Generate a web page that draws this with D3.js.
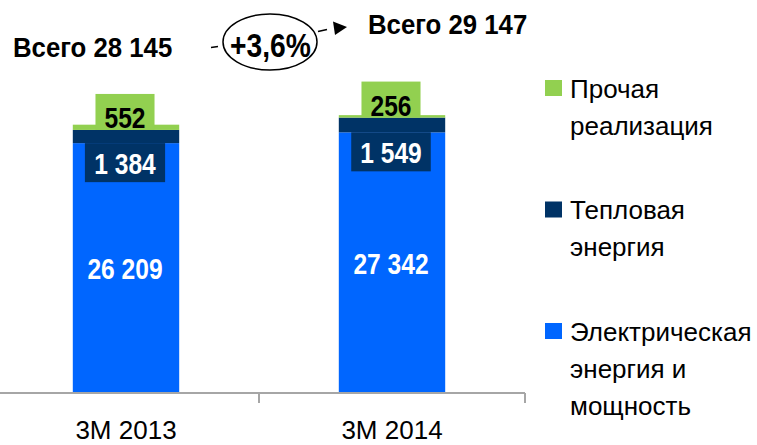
<!DOCTYPE html>
<html>
<head>
<meta charset="utf-8">
<script src="https://cdn.jsdelivr.net/npm/d3@7"></script>
<style>
  html, body { margin: 0; padding: 0; background: #fff; }
  svg { display: block; font-family: 'Liberation Sans', Arial, sans-serif; }
  .axis path, .axis line { stroke: #a6a6a6; stroke-width: 2px; }
  .axis text { font-size: 26px; fill: #000; }
  .legend text { font-size: 26px; fill: #000; }
</style>
</head>
<body>
<svg id="chart"></svg>
<script>
// категории
var categories = ['3M 2013', '3M 2014'];
// электрическая энергия и мощность
var electric = [26209, 27342];
// тепловая энергия
var heat = [1384, 1549];
// прочая реализация
var other = [552, 256];
// легенда (сверху вниз)
var legendKeys = ['other', 'heat', 'electric'];
var legendLabels = [
  ['Прочая', 'реализация'],
  ['Тепловая', 'энергия'],
  ['Электрическая', 'энергия и', 'мощность']
];

(function() {
  var width = 757;
  var height = 445;

  var colors = {
    electric: '#0066ff',
    heat: '#003366',
    other: '#92d050'
  };

  var locale = d3.formatLocale({
    decimal: ',',
    thousands: ' ',
    grouping: [3],
    currency: ['', '']
  });
  var fmt = locale.format(',d');
  var fmtPct = locale.format('+.1%');

  var rows = categories.map(function(c, i) {
    return { cat: c, electric: electric[i], heat: heat[i], other: other[i] };
  });
  var totals = rows.map(function(d) {
    return d.electric + d.heat + d.other;
  });

  var stack = d3.stack().keys(['electric', 'heat', 'other']);
  var series = stack(rows);

  var svg = d3.select('#chart')
    .attr('width', width)
    .attr('height', height);

  // шкалы
  var x = d3.scaleBand()
    .domain(categories)
    .range([-7, 525])
    .padding(0);

  var barWidth = x.bandwidth() * 0.4;

  var y = d3.scaleLinear()
    .domain([0, 30000])
    .range([393, 107]);

  // сжатый шрифт (как Arial Narrow)
  function narrow(sel, cx, cy, sx) {
    sel.attr('x', 0).attr('y', 0)
      .attr('text-anchor', 'middle')
      .attr('transform', 'translate(' + cx + ',' + cy + ') scale(' + sx + ',1)');
  }

  // столбцы
  var layers = svg.append('g')
    .selectAll('g')
    .data(series)
    .enter()
    .append('g')
    .attr('fill', function(d) { return colors[d.key]; });

  layers.selectAll('rect')
    .data(function(d) { return d; })
    .enter()
    .append('rect')
    .attr('x', function(d) { return x(d.data.cat) + (x.bandwidth() - barWidth) / 2; })
    .attr('y', function(d) { return y(d[1]); })
    .attr('width', barWidth)
    .attr('height', function(d) { return y(d[0]) - y(d[1]); });

  // ось X
  var axis = svg.append('g')
    .attr('class', 'axis')
    .attr('transform', 'translate(0,' + y(0) + ')');

  axis.append('line')
    .attr('x1', x.range()[0])
    .attr('x2', x.range()[1])
    .attr('y1', 0)
    .attr('y2', 0);

  axis.selectAll('line.tick')
    .data(categories)
    .enter()
    .append('line')
    .attr('class', 'tick')
    .attr('x1', function(d) { return x(d) + x.bandwidth(); })
    .attr('x2', function(d) { return x(d) + x.bandwidth(); })
    .attr('y1', 0)
    .attr('y2', 10);

  axis.selectAll('text')
    .data(categories)
    .enter()
    .append('text')
    .attr('x', function(d) { return x(d) + x.bandwidth() / 2; })
    .attr('y', 46)
    .attr('text-anchor', 'middle')
    .text(function(d) { return d; });

  var cx = function(d) { return x(d.data.cat) + x.bandwidth() / 2 - 1; };

  // подписи: электрическая энергия
  svg.append('g')
    .selectAll('text')
    .data(series[0])
    .enter()
    .append('text')
    .attr('fill', '#fff')
    .attr('font-weight', 'bold')
    .attr('font-size', 30)
    .text(function(d) { return fmt(d.data.electric); })
    .each(function(d) {
      narrow(d3.select(this), cx(d), (y(d[0]) + y(d[1])) / 2 + 11, 0.82);
    });

  // подписи в плашках
  function boxLabels(data, key, fill, color, boxY, boxH, baseY) {
    var g = svg.append('g')
      .selectAll('g')
      .data(data)
      .enter()
      .append('g');

    var rect = g.append('rect').attr('fill', fill);

    g.append('text')
      .attr('fill', color)
      .attr('font-weight', 'bold')
      .attr('font-size', 30)
      .text(function(d) { return fmt(d.data[key]); })
      .each(function(d) {
        narrow(d3.select(this), cx(d), baseY(d), 0.82);
        var w = this.getBBox().width * 0.82 + 18;
        rect.filter(function(e) { return e === d; })
          .attr('x', cx(d) - w / 2)
          .attr('y', boxY(d))
          .attr('width', w)
          .attr('height', boxH);
      });
  }

  // тепловая энергия: плашка под сегментом
  boxLabels(series[1], 'heat', colors.heat, '#fff',
    function(d) { return y(d[0]); }, 39,
    function(d) { return y(d[0]) + 31; });

  // прочая реализация: плашка над сегментом
  boxLabels(series[2], 'other', colors.other, '#000',
    function(d) { return y(d[0]) - 36; }, 36,
    function(d) { return y(d[0]) - 2; });

  // итоги
  var totalPos = [{ x: 13, y: 57 }, { x: 368, y: 34 }];
  svg.append('g')
    .selectAll('text')
    .data(totals)
    .enter()
    .append('text')
    .attr('font-weight', 'bold')
    .attr('font-size', 28)
    .attr('transform', function(d, i) {
      return 'translate(' + totalPos[i].x + ',' + totalPos[i].y + ') scale(0.92,1)';
    })
    .text(function(d) { return 'Всего ' + fmt(d); });

  // стрелка роста
  var ann = svg.append('g')
    .attr('stroke', '#000')
    .attr('stroke-width', 1.5);

  ann.append('line')
    .attr('x1', 211).attr('y1', 47.5)
    .attr('x2', 218).attr('y2', 46.5);

  ann.append('line')
    .attr('x1', 318).attr('y1', 31.5)
    .attr('x2', 327).attr('y2', 29.5);

  ann.append('path')
    .attr('d', 'M333,21.5 L347,27 L335,35 Z')
    .attr('fill', '#000')
    .attr('stroke', 'none');

  ann.append('ellipse')
    .attr('cx', 270)
    .attr('cy', 42)
    .attr('rx', 47)
    .attr('ry', 28)
    .attr('fill', '#fff');

  svg.append('text')
    .attr('font-weight', 'bold')
    .attr('font-size', 34)
    .text(fmtPct(totals[1] / totals[0] - 1))
    .each(function() {
      narrow(d3.select(this), 270.5, 57, 0.83);
    });

  // легенда
  var legend = svg.append('g')
    .attr('class', 'legend')
    .selectAll('g')
    .data(legendKeys)
    .enter()
    .append('g')
    .attr('transform', function(d, i) {
      return 'translate(545,' + (80 + i * 121.5) + ')';
    });

  legend.append('rect')
    .attr('width', 17)
    .attr('height', 16)
    .attr('fill', function(d) { return colors[d]; });

  legend.each(function(d, i) {
    d3.select(this).selectAll('text')
      .data(legendLabels[i])
      .enter()
      .append('text')
      .attr('x', 25)
      .attr('y', function(t, j) { return 17.5 + j * 37; })
      .text(function(t) { return t; });
  });
}());
</script>
</body>
</html>
